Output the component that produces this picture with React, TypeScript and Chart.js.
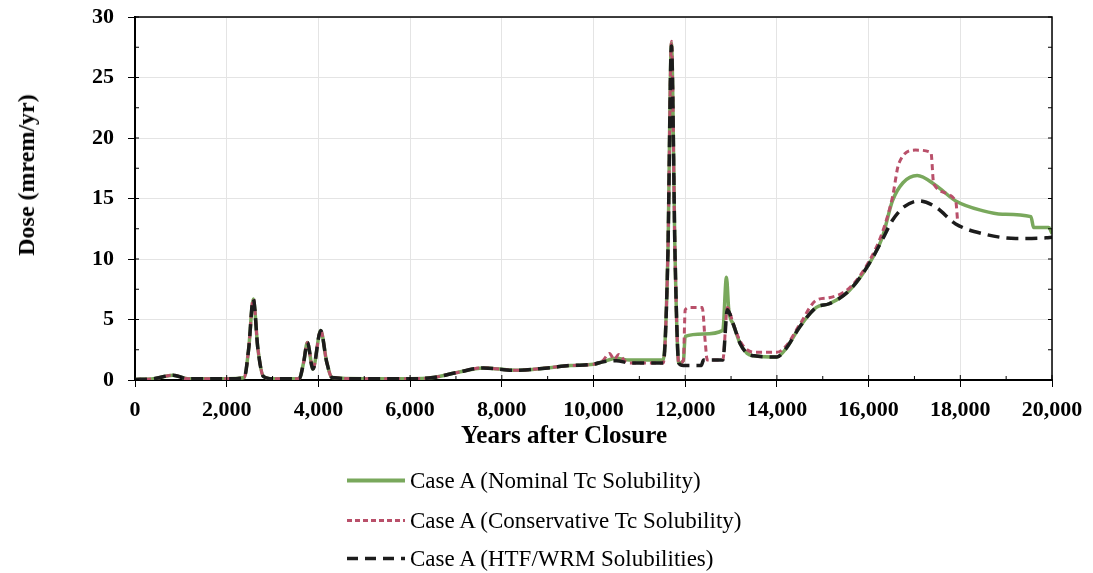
import React, { useEffect, useRef } from "react";
import { Chart, registerables } from "chart.js";

Chart.register(...registerables);

const FONT = '"Liberation Serif", "Times New Roman", serif';

// Shared early history (all three cases coincide before ~10,000 years)
const earlyYears = [0, 400, 830, 1150, 2000, 2380, 2480, 2580, 2680, 2800, 3000, 3580, 3680, 3760, 3880, 4050, 4180, 4300, 5000, 6000, 6500, 7000, 7600, 8300, 9000, 9500, 10000];
const earlyDose = [0.05, 0.1, 0.4, 0.1, 0.1, 0.2, 2.6, 6.7, 2.6, 0.3, 0.1, 0.1, 1.5, 3.1, 0.9, 4.1, 1.5, 0.2, 0.1, 0.1, 0.2, 0.6, 1.0, 0.8, 1.0, 1.2, 1.3];

// Case A (Nominal Tc Solubility)
const nominalYears = [10200, 10500, 10780, 11520, 11620, 11700, 11780, 11860, 11960, 12000, 12400, 12820, 12900, 12950, 13050, 13200, 13350, 13500, 14000, 14200, 14500, 14860, 15140, 15580, 16010, 16300, 16520, 16750, 17060, 17460, 17900, 18480, 18920, 19540, 19600, 19930, 20000];
const nominalDose = [1.5, 1.8, 1.65, 1.65, 10, 27.8, 10, 1.4, 1.6, 3.6, 3.8, 4.1, 8.5, 5.8, 4.6, 3.0, 2.2, 2.0, 1.9, 2.6, 4.4, 6.0, 6.3, 7.4, 9.6, 11.8, 14.8, 16.3, 16.9, 16.1, 14.8, 14.0, 13.7, 13.5, 12.6, 12.6, 12.1];

// Case A (Conservative Tc Solubility)
const conservativeYears = [10200, 10350, 10450, 10550, 10700, 10800, 11520, 11620, 11700, 11780, 11860, 11960, 12000, 12100, 12370, 12440, 12480, 12820, 12920, 13050, 13200, 13350, 13500, 14000, 14200, 14500, 14860, 15140, 15580, 16010, 16300, 16520, 16660, 17020, 17360, 17420, 17900, 17940];
const conservativeDose = [1.6, 2.2, 1.7, 2.1, 1.5, 1.4, 1.4, 10, 28.0, 10, 1.4, 1.6, 5.8, 6.0, 6.0, 3.0, 1.65, 1.65, 6.0, 4.6, 3.2, 2.5, 2.3, 2.3, 2.8, 4.6, 6.6, 6.8, 7.6, 9.8, 12.2, 15.1, 17.9, 19.0, 18.8, 16.2, 14.8, 13.2];

// Case A (HTF/WRM Solubilities)
const htfYears = [10200, 10500, 10800, 11520, 11620, 11700, 11780, 11860, 11960, 12350, 12400, 12820, 12920, 13050, 13200, 13350, 13500, 14000, 14200, 14500, 14860, 15140, 15580, 16010, 16300, 16520, 16770, 17100, 17460, 17900, 18480, 19210, 19870, 20000];
const htfDose = [1.5, 1.6, 1.4, 1.4, 10, 27.6, 10, 1.4, 1.2, 1.2, 1.65, 1.65, 5.8, 4.6, 3.0, 2.2, 2.0, 1.9, 2.6, 4.4, 6.0, 6.3, 7.4, 9.6, 11.6, 13.2, 14.3, 14.8, 14.3, 12.9, 12.1, 11.7, 11.75, 11.8];

const seriesLabels = [
  "Case A (Nominal Tc Solubility)",
  "Case A (Conservative Tc Solubility)",
  "Case A (HTF/WRM Solubilities)",
];

const GREEN = "#79a85c";
const RED = "#b9506a";
const BLACK = "#1c1c1c";

function toPoints(xs: number[], ys: number[]) {
  return xs.map((x, i) => ({ x, y: ys[i] }));
}

const framePlugin = {
  id: "frame",
  afterDraw(chart: any) {
    const { ctx, chartArea, scales } = chart;
    const { left, right, top, bottom } = chartArea;
    ctx.save();
    ctx.strokeStyle = "#000";
    ctx.lineWidth = 1.5;
    ctx.beginPath();
    ctx.moveTo(left, top);
    ctx.lineTo(right, top);
    ctx.lineTo(right, bottom);
    ctx.stroke();
    ctx.lineWidth = 1;
    for (let v = 0; v <= 20000; v += 1000) {
      const px = scales.x.getPixelForValue(v);
      const len = v % 2000 === 0 ? 5 : 4;
      ctx.beginPath();
      ctx.moveTo(px, bottom);
      ctx.lineTo(px, bottom - len);
      ctx.stroke();
    }
    for (let v = 0; v <= 30; v += 2.5) {
      const py = scales.y.getPixelForValue(v);
      ctx.beginPath();
      ctx.moveTo(left, py);
      ctx.lineTo(left + 4, py);
      ctx.moveTo(right, py);
      ctx.lineTo(right - 4, py);
      ctx.stroke();
    }
    ctx.restore();
  },
};

export default function App() {
  const ref = useRef<HTMLCanvasElement>(null);

  useEffect(() => {
    document.body.style.margin = "0";
    document.body.style.background = "#fff";
    const tickFont = { family: FONT, size: 22, weight: "bold" as const };
    const chart = new Chart(ref.current as HTMLCanvasElement, {
      type: "line",
      data: {
        datasets: [
          {
            label: seriesLabels[2],
            data: toPoints(earlyYears.concat(htfYears), earlyDose.concat(htfDose)),
            borderColor: BLACK,
            borderWidth: 3.5,
            borderDash: [12, 7],
            pointRadius: 0,
            cubicInterpolationMode: "monotone",
          },
          {
            label: seriesLabels[1],
            data: toPoints(earlyYears.concat(conservativeYears), earlyDose.concat(conservativeDose)),
            borderColor: RED,
            borderWidth: 3,
            borderDash: [6, 4],
            pointRadius: 0,
            cubicInterpolationMode: "monotone",
          },
          {
            label: seriesLabels[0],
            data: toPoints(earlyYears.concat(nominalYears), earlyDose.concat(nominalDose)),
            borderColor: GREEN,
            borderWidth: 3.5,
            pointRadius: 0,
            cubicInterpolationMode: "monotone",
          },
        ],
      },
      options: {
        responsive: false,
        animation: false,
        layout: { padding: { left: 0, top: 17, right: 41, bottom: 0 } },
        plugins: { legend: { display: false }, tooltip: { enabled: false } },
        scales: {
          x: {
            type: "linear",
            min: 0,
            max: 20000,
            afterFit: (s: any) => {
              s.height = 193;
              s.paddingLeft = 0;
              s.paddingRight = 0;
            },
            ticks: {
              stepSize: 2000,
              font: tickFont,
              color: "#000",
              padding: 10,
              maxRotation: 0,
              callback: (v: any) => Number(v).toLocaleString("en-US"),
            },
            grid: { color: "#e4e4e4", tickColor: "#000", tickLength: 7, lineWidth: 1 },
            border: { color: "#000", width: 2 },
          },
          y: {
            min: 0,
            max: 30,
            afterFit: (s: any) => {
              s.width = 135;
              s.paddingTop = 0;
              s.paddingBottom = 0;
            },
            ticks: { stepSize: 5, font: tickFont, color: "#000", padding: 14 },
            grid: { color: "#e4e4e4", tickColor: "#000", tickLength: 7, lineWidth: 1 },
            border: { color: "#000", width: 2 },
          },
        },
      },
      plugins: [framePlugin],
    });
    return () => chart.destroy();
  }, []);

  const legendRows = [
    { label: seriesLabels[0], color: GREEN, dash: "", width: 4, y: 480 },
    { label: seriesLabels[1], color: RED, dash: "5 3", width: 3, y: 520 },
    { label: seriesLabels[2], color: BLACK, dash: "11 7", width: 3.5, y: 558 },
  ];

  return (
    <div style={{ position: "relative", width: 1093, height: 573, background: "#fff", fontFamily: FONT, color: "#000" }}>
      <canvas ref={ref} width={1093} height={573} style={{ position: "absolute", left: 0, top: 0 }} />
      <div
        style={{
          position: "absolute",
          left: 26,
          top: 175,
          transform: "translate(-50%, -50%) rotate(-90deg)",
          whiteSpace: "nowrap",
          fontWeight: "bold",
          fontSize: 24,
          lineHeight: 1,
        }}
      >
        Dose (mrem/yr)
      </div>
      <div
        style={{
          position: "absolute",
          left: 564,
          top: 434,
          transform: "translate(-50%, -50%)",
          whiteSpace: "nowrap",
          fontWeight: "bold",
          fontSize: 25,
          lineHeight: 1,
        }}
      >
        Years after Closure
      </div>
      {legendRows.map((r) => (
        <div key={r.label} style={{ position: "absolute", left: 347, top: r.y, transform: "translateY(-50%)", display: "flex", alignItems: "center", whiteSpace: "nowrap" }}>
          <svg width={60} height={10} style={{ display: "block" }}>
            <line x1={0} y1={5} x2={58} y2={5} stroke={r.color} strokeWidth={r.width} strokeDasharray={r.dash || undefined} />
          </svg>
          <span style={{ fontSize: 23, lineHeight: 1, marginLeft: 3 }}>{r.label}</span>
        </div>
      ))}
    </div>
  );
}
